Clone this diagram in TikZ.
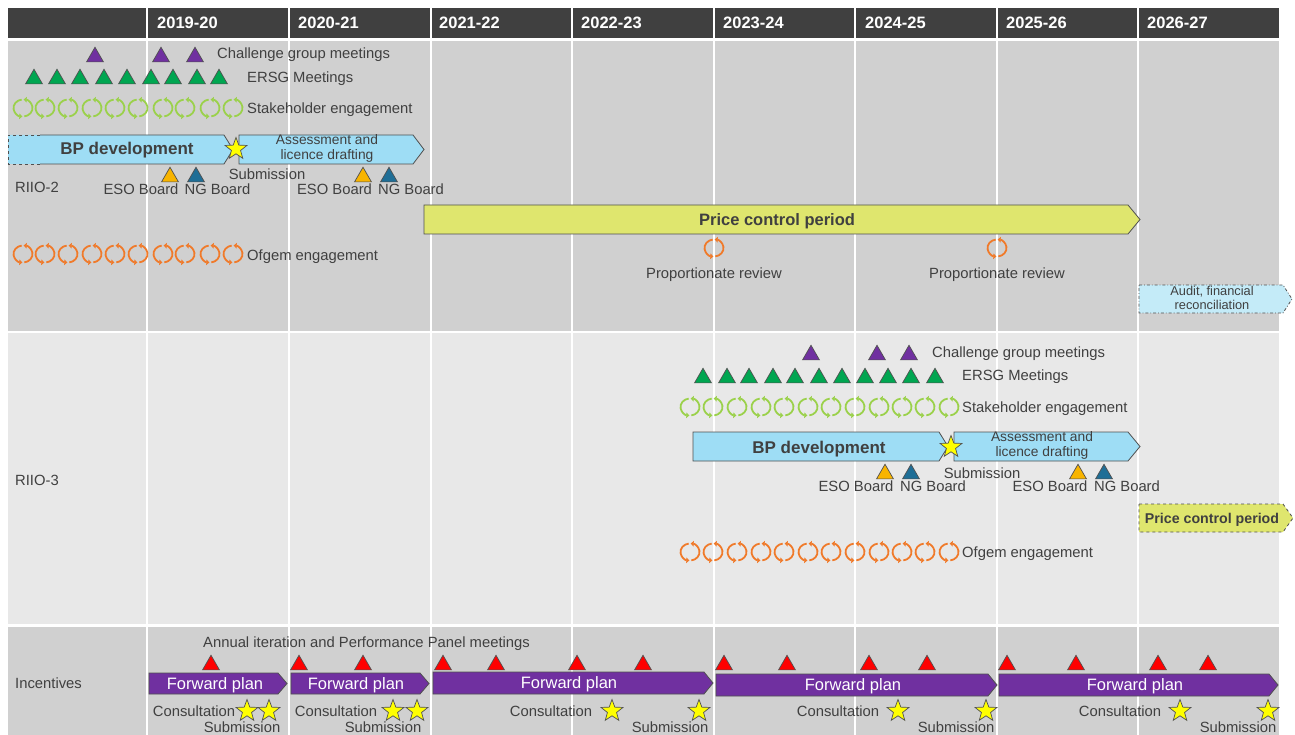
\documentclass[tikz,border=0pt]{standalone}
\usepackage{fontspec}
\setmainfont{Liberation Sans}
\usetikzlibrary{shapes.geometric,arrows.meta}
\definecolor{hdr}{HTML}{404040}
\definecolor{rowA}{HTML}{D0D0D0}
\definecolor{rowB}{HTML}{E8E8E8}
\definecolor{txt}{HTML}{404040}
\definecolor{edge}{HTML}{505050}
\definecolor{bpblue}{HTML}{9EDDF5}
\definecolor{audblue}{HTML}{C4EBF8}
\definecolor{pcy}{HTML}{DFE66E}
\definecolor{purp}{HTML}{7030A0}
\definecolor{grn}{HTML}{00A651}
\definecolor{lgrn}{HTML}{9BD14B}
\definecolor{org}{HTML}{F07A2A}
\definecolor{eso}{HTML}{F8B400}
\definecolor{ngb}{HTML}{1F6E96}
\definecolor{redt}{HTML}{FF0000}
\definecolor{stary}{HTML}{FFFF00}
\newcommand\chev[6][]{\path[#1] (#2,#4) -- ({#3-#6},#4) -- (#3,{(#4+#5)/2}) -- ({#3-#6},#5) -- (#2,#5) -- cycle;}
\tikzset{
  lbl/.style={font=\fontsize{14.8}{16}\selectfont, text=txt, inner sep=0pt, text height=10.6pt, text depth=0pt},
  mlbl/.style={text=txt, inner sep=0pt, align=center},
  hlbl/.style={font=\fontsize{16.5}{18}\selectfont\bfseries, text=white, inner sep=0pt, anchor=west, text height=11.8pt, text depth=0pt},
  tri/.style={regular polygon, regular polygon sides=3, minimum size=19.5pt, inner sep=0pt, draw=edge, line width=0.7pt},
  starnode/.style={star, star points=5, star point ratio=2.4, minimum size=23pt, inner sep=0pt, fill=stary, draw=edge, line width=0.7pt},
  pics/cyc/.style={code={
    \draw[line width=1.8pt,#1,-{Triangle[length=3pt,width=5.5pt]}] (98:9.5pt and 8.5pt) arc[start angle=98,end angle=266,x radius=9.5pt,y radius=8.5pt];
    \draw[line width=1.8pt,#1,-{Triangle[length=3pt,width=5.5pt]}] (278:9.5pt and 8.5pt) arc[start angle=278,end angle=446,x radius=9.5pt,y radius=8.5pt];
  }},
  chevbox/.style={draw=edge, line width=0.8pt},
}
\begin{document}
\begin{tikzpicture}[x=1pt,y=-1pt]
\fill[white] (0,0) rectangle (1295,735);
\useasboundingbox (0,0) rectangle (1295,735);
% backgrounds
\fill[hdr] (8,8) rectangle (1279,38);
\fill[rowA] (8,41) rectangle (1279,331);
\fill[rowB] (8,333) rectangle (1279,624);
\fill[rowA] (8,627) rectangle (1279,740);
\foreach \x in {147,289,431,572,714,855,997,1138}
  \draw[white, line width=1.5pt] (\x,8) -- (\x,735);
% header
\foreach \x/\t [count=\i] in {157/2019-20,298/2020-21,439/2021-22,581/2022-23,723/2023-24,865/2024-25,1006/2025-26,1147/2026-27}
  \node[hlbl] (hdr\i) at (\x,22.5) {\t};

% ===== RIIO-2 =====
\node[lbl, anchor=west] (r2lab) at (15,187) {RIIO-2};
\foreach \x [count=\i] in {95,161,195}
  \node[tri, fill=purp] (r2cg\i) at (\x,57) {};
\node[lbl, anchor=west] (r2cgt) at (217,53.5) {Challenge group meetings};
\foreach \x [count=\i] in {34,57,80,104,127,151,173,197,219}
  \node[tri, fill=grn] (r2er\i) at (\x,79) {};
\node[lbl, anchor=west] (r2ert) at (247,77) {ERSG Meetings};
\foreach \x [count=\i] in {23,45,68,92,115,138,163,185,210,233}
  \pic (r2sh\i) at (\x,108) {cyc=lgrn};
\node[lbl, anchor=west] (r2sht) at (247,108.5) {Stakeholder engagement};
% BP development (dashed left end)
\chev[fill=bpblue]{8}{233}{135}{164}{9}
\draw[edge, line width=0.8pt] (40,135) -- (224,135) -- (233,149.5) -- (224,164) -- (40,164);
\draw[edge, line width=0.8pt, dashed] (40,135) -- (8,135) -- (8,164) -- (40,164);
\node[lbl, font=\fontsize{17}{19}\selectfont\bfseries, text height=12.2pt] (r2bp) at (127,148.5) {BP development};
\chev[fill=bpblue, chevbox]{239}{424}{135}{164}{11}
\node[mlbl, font=\fontsize{13.8}{15}\selectfont] (r2as) at (327,148) {Assessment and\\licence drafting};
\node[starnode] (r2st) at (236,149) {};
\node[lbl] (r2sub) at (267,174) {Submission};
\node[tri, fill=eso] (r2e1) at (170,177) {};
\node[tri, fill=ngb] (r2n1) at (196,177) {};
\node[tri, fill=eso] (r2e2) at (363,177) {};
\node[tri, fill=ngb] (r2n2) at (389,177) {};
\node[lbl] (r2et1) at (141,189) {ESO Board};
\node[lbl] (r2nt1) at (217.5,189) {NG Board};
\node[lbl] (r2et2) at (334.5,189) {ESO Board};
\node[lbl] (r2nt2) at (411,189) {NG Board};
% price control
\chev[fill=pcy, chevbox]{424}{1140}{205}{234}{12}
\node[lbl, font=\fontsize{16.5}{18}\selectfont\bfseries, text height=11.8pt] (r2pc) at (777,219.5) {Price control period};
\foreach \x [count=\i] in {23,45,68,92,115,138,163,185,210,233}
  \pic (r2of\i) at (\x,254) {cyc=org};
\node[lbl, anchor=west] (r2oft) at (247,255) {Ofgem engagement};
\pic (r2pr1) at (714,248) {cyc=org};
\pic (r2pr2) at (997,248) {cyc=org};
\node[lbl] (r2prt1) at (714,273) {Proportionate review};
\node[lbl] (r2prt2) at (997,273) {Proportionate review};
% audit
\chev[fill=audblue, draw=edge, line width=0.8pt, dash dot]{1139}{1292}{285}{313}{9}
\node[mlbl, font=\fontsize{12.8}{13.5}\selectfont] (r2au) at (1212,298) {Audit, financial\\reconciliation};

% ===== RIIO-3 =====
\node[lbl, anchor=west] (r3lab) at (15,480) {RIIO-3};
\foreach \x [count=\i] in {811,877,909}
  \node[tri, fill=purp] (r3cg\i) at (\x,355) {};
\node[lbl, anchor=west] (r3cgt) at (932,352.5) {Challenge group meetings};
\foreach \x [count=\i] in {703,727,749,773,795,819,842,865,888,911,935}
  \node[tri, fill=grn] (r3er\i) at (\x,378) {};
\node[lbl, anchor=west] (r3ert) at (962,375) {ERSG Meetings};
\foreach \x [count=\i] in {690,713,737,761,784,808,831,855,879,902,925,949}
  \pic (r3sh\i) at (\x,407) {cyc=lgrn};
\node[lbl, anchor=west] (r3sht) at (962,407.5) {Stakeholder engagement};
\chev[fill=bpblue, chevbox]{693}{948}{432}{461}{9}
\node[lbl, font=\fontsize{17}{19}\selectfont\bfseries, text height=12.2pt] (r3bp) at (819,447) {BP development};
\chev[fill=bpblue, chevbox]{954}{1140}{432}{461}{12}
\node[mlbl, font=\fontsize{13.8}{15}\selectfont] (r3as) at (1042,445.5) {Assessment and\\licence drafting};
\node[starnode] (r3st) at (951,447) {};
\node[lbl] (r3sub) at (982,473) {Submission};
\node[tri, fill=eso] (r3e1) at (885,474) {};
\node[tri, fill=ngb] (r3n1) at (911,474) {};
\node[tri, fill=eso] (r3e2) at (1078,474) {};
\node[tri, fill=ngb] (r3n2) at (1104,474) {};
\node[lbl] (r3et1) at (856,486.5) {ESO Board};
\node[lbl] (r3nt1) at (933,486.5) {NG Board};
\node[lbl] (r3et2) at (1050,486.5) {ESO Board};
\node[lbl] (r3nt2) at (1127,486.5) {NG Board};
\chev[fill=pcy, draw=edge, line width=0.8pt, dashed]{1139}{1293}{504}{532}{10}
\node[lbl, font=\fontsize{14.2}{16}\selectfont\bfseries, text height=10.2pt] (r3pc) at (1212,518) {Price control period};
\foreach \x [count=\i] in {690,713,737,761,784,808,831,855,879,902,925,949}
  \pic (r3of\i) at (\x,552) {cyc=org};
\node[lbl, anchor=west] (r3oft) at (962,552.5) {Ofgem engagement};

% ===== Incentives =====
\node[lbl, anchor=west] (inlab) at (15,683) {Incentives};
\node[lbl, anchor=west] (inann) at (203,642) {Annual iteration and Performance Panel meetings};
\foreach \x [count=\i] in {211,299,363,443,496,577,643,724,787,869,927,1007,1076,1158,1208}
  \node[tri, fill=redt] (inr\i) at (\x,665) {};
\chev[fill=purp, chevbox]{149}{287}{673}{694}{9}
\chev[fill=purp, chevbox]{291}{429}{673}{694}{9}
\chev[fill=purp, chevbox]{433}{713}{672}{694}{9}
\chev[fill=purp, chevbox]{716}{997}{674}{696}{9}
\chev[fill=purp, chevbox]{999}{1278}{674}{696}{9}
\foreach \x/\y [count=\i] in {215/683.5,356/683.5,569/683,853/685,1135/685}
  \node[lbl, text=white, font=\fontsize{16.5}{18}\selectfont, text height=11.8pt] (infp\i) at (\x,\y) {Forward plan};
\foreach \x [count=\i] in {194,336,551,838,1120}
  \node[lbl] (incon\i) at (\x,711) {Consultation};
\foreach \x [count=\i] in {247,269,393,417,612,699,898,986,1180,1268}
  \node[starnode] (inst\i) at (\x,711) {};
\foreach \x [count=\i] in {242,383,670,956,1238}
  \node[lbl] (insub\i) at (\x,727.5) {Submission};
\end{tikzpicture}
\end{document}
